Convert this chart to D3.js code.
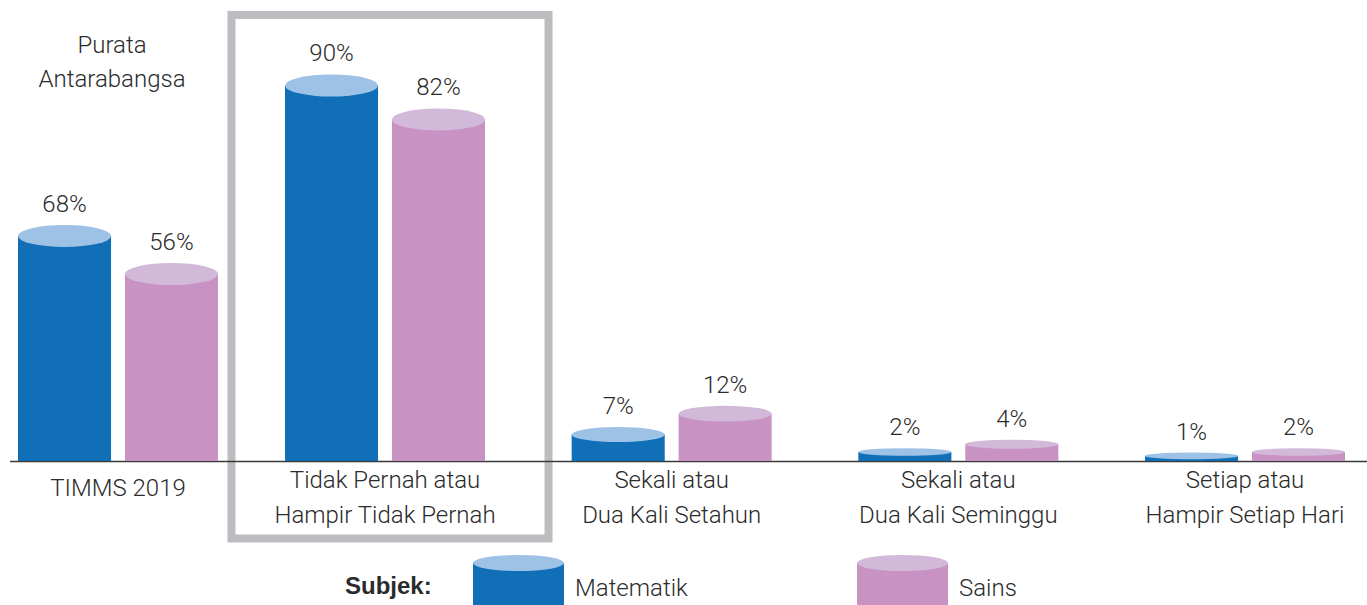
<!DOCTYPE html>
<html lang="ms">
<head>
<meta charset="UTF-8">
<title>Kekerapan - Purata Antarabangsa</title>
<script src="https://cdn.jsdelivr.net/npm/d3@7/dist/d3.min.js"></script>
<style>
	body { margin: 0; background: #fff; overflow: hidden; }
	text { font-family: Roboto, "Liberation Sans", sans-serif; font-weight: 300; fill: #2b2b2b; }
</style>
</head>
<body>
<script>
	// data
	var groups = ['TIMMS 2019', 'Tidak Pernah atau Hampir Tidak Pernah', 'Sekali atau Dua Kali Setahun',
		'Sekali atau Dua Kali Seminggu', 'Setiap atau Hampir Setiap Hari'];
	var groupLines = [
		['TIMMS 2019'],
		['Tidak Pernah atau', 'Hampir Tidak Pernah'],
		['Sekali atau', 'Dua Kali Setahun'],
		['Sekali atau', 'Dua Kali Seminggu'],
		['Setiap atau', 'Hampir Setiap Hari']
	];
	var subjects = ['Matematik', 'Sains'];
	var matematik = [68, 90, 7, 2, 1];
	var sains = [56, 82, 12, 4, 2];
	var refTitle = ['Purata', 'Antarabangsa'];
	var legendTitle = 'Subjek:';

	var width = 1367,
		height = 605,
		baseY = 461;

	var bodyColor = { Matematik: '#116fb8', Sains: '#c893c3' };
	var topColor = { Matematik: '#9dc2e5', Sains: '#d2b9d9' };

	var svg = d3.select('body').append('svg')
		.attr('width', width)
		.attr('height', height);

	// distribution groups on a point scale, the reference panel sits left of them
	var xDist = d3.scalePoint()
		.domain(groups.slice(1))
		.range([385, 1245]);
	var panelGap = 267;

	function xGroup(g) {
		return g === groups[0] ? xDist(groups[1]) - panelGap : xDist(g);
	}

	var xSub = d3.scaleBand()
		.domain(subjects)
		.range([-100, 100])
		.paddingInner(0.13);

	// y scales give the top edge of each cylinder; the international
	// average panel is drawn on its own scale
	var yRef = d3.scaleLinear()
		.domain([0, 100])
		.range([baseY - 20.5, baseY - 337.5]);
	var yMain = d3.scaleLinear()
		.domain([0, 100])
		.range([baseY - 4.25, baseY - 429]);

	var ryScale = d3.scaleLinear()
		.domain([0, 4, 7, 50])
		.range([3, 4.5, 7.5, 11])
		.clamp(true);

	var rows = [];
	groups.forEach(function(g, i) {
		rows.push({ group: g, subject: 'Matematik', value: matematik[i], ref: i === 0 });
		rows.push({ group: g, subject: 'Sains', value: sains[i], ref: i === 0 });
	});

	function topOf(d) {
		return d.ref ? yRef(d.value) : yMain(d.value);
	}

	function cyOf(d) {
		return topOf(d) + ryScale(d.value);
	}

	function xOf(d) {
		return xGroup(d.group) + xSub(d.subject);
	}

	// highlight box around the second group
	var boxCx = xGroup(groups[1]) + 5;
	svg.append('rect')
		.attr('x', boxCx - 158.5)
		.attr('y', 15)
		.attr('width', 317)
		.attr('height', 523.5)
		.attr('fill', 'none')
		.attr('stroke', '#bcbdc0')
		.attr('stroke-width', 8);

	// baseline
	svg.append('line')
		.attr('x1', 10)
		.attr('x2', width)
		.attr('y1', baseY + 0.5)
		.attr('y2', baseY + 0.5)
		.attr('stroke', '#3a3a3a')
		.attr('stroke-width', 1.3);

	var bars = svg.append('g').selectAll('g')
		.data(rows)
		.enter().append('g');

	bars.append('rect')
		.attr('x', xOf)
		.attr('y', cyOf)
		.attr('width', xSub.bandwidth())
		.attr('height', d => baseY - cyOf(d))
		.attr('fill', d => bodyColor[d.subject]);

	bars.append('ellipse')
		.attr('cx', d => xOf(d) + xSub.bandwidth() / 2)
		.attr('cy', cyOf)
		.attr('rx', xSub.bandwidth() / 2)
		.attr('ry', d => ryScale(d.value))
		.attr('fill', d => topColor[d.subject]);

	bars.append('text')
		.attr('x', d => xOf(d) + xSub.bandwidth() / 2)
		.attr('y', d => topOf(d) - 13)
		.attr('text-anchor', 'middle')
		.attr('font-size', 24)
		.text(d => d.value + '%');

	// category labels
	svg.append('g').selectAll('text')
		.data(groups)
		.enter().append('text')
		.attr('x', d => xGroup(d))
		.attr('y', (d, i) => i === 0 ? 496 : 488)
		.attr('text-anchor', 'middle')
		.attr('font-size', 24)
		.each(function(d, i) {
			d3.select(this).selectAll('tspan')
				.data(groupLines[i])
				.enter().append('tspan')
				.attr('x', xGroup(d))
				.attr('dy', (t, j) => j === 0 ? 0 : 35)
				.text(t => t);
		});

	// reference title
	svg.append('text')
		.attr('x', 112)
		.attr('y', 53)
		.attr('text-anchor', 'middle')
		.attr('font-size', 24)
		.selectAll('tspan')
		.data(refTitle)
		.enter().append('tspan')
		.attr('x', 112)
		.attr('dy', (t, j) => j === 0 ? 0 : 34)
		.text(t => t);

	// legend
	var legend = svg.append('g');
	legend.append('text')
		.attr('x', 345)
		.attr('y', 594)
		.attr('font-size', 24)
		.style('font-weight', 700)
		.style('font-family', '"Liberation Sans", Arial, sans-serif')
		.text(legendTitle);

	var legendX = d3.scaleOrdinal()
		.domain(subjects)
		.range([473, 857]);

	var items = legend.selectAll('g.item')
		.data(subjects)
		.enter().append('g')
		.attr('class', 'item')
		.attr('transform', d => `translate(${legendX(d)},0)`);

	items.append('rect')
		.attr('x', 0)
		.attr('y', 563)
		.attr('width', 91)
		.attr('height', 50)
		.attr('fill', d => bodyColor[d]);

	items.append('ellipse')
		.attr('cx', 45.5)
		.attr('cy', 563)
		.attr('rx', 45.5)
		.attr('ry', 8)
		.attr('fill', d => topColor[d]);

	items.append('text')
		.attr('x', 102)
		.attr('y', 596)
		.attr('font-size', 24)
		.text(d => d);
</script>
</body>
</html>
